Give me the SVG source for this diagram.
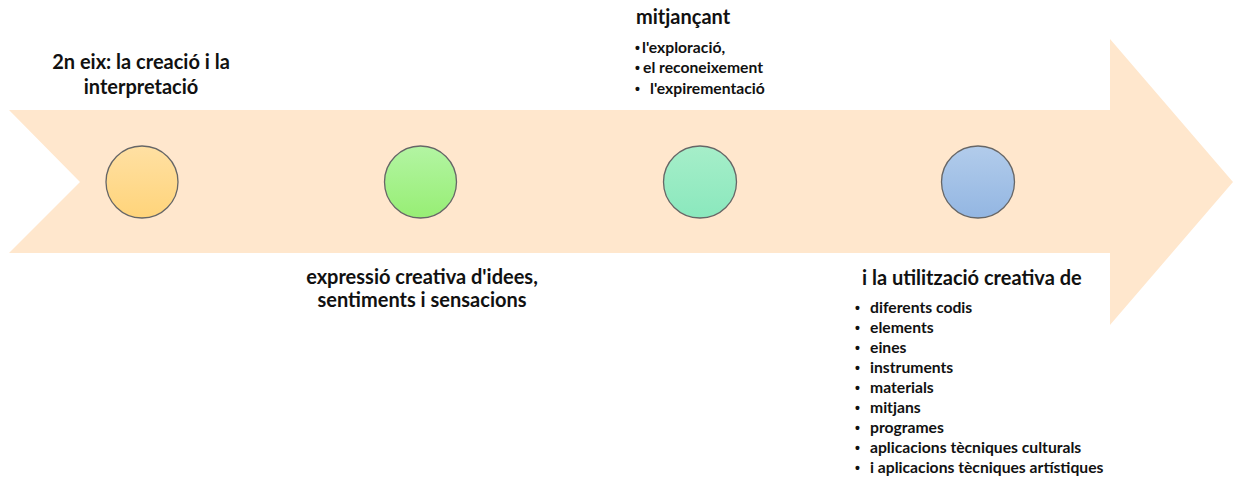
<svg xmlns="http://www.w3.org/2000/svg" width="1235" height="481" viewBox="0 0 1235 481">
<style>
text{font-family:Lato,"Open Sans","Liberation Sans",sans-serif;font-weight:bold;fill:#111}
.big{font-size:20px}
.sm{font-size:15.7px}
.b{font-family:"Liberation Sans",sans-serif;font-size:14px}
.c{stroke:#666;stroke-width:1.3}
</style>
<defs>
<linearGradient id="g1" x1="0" y1="0" x2="0" y2="1"><stop offset="0" stop-color="#FFE0A3"/><stop offset="1" stop-color="#FFD47A"/></linearGradient>
<linearGradient id="g2" x1="0" y1="0" x2="0" y2="1"><stop offset="0" stop-color="#B3F5A3"/><stop offset="1" stop-color="#97EE74"/></linearGradient>
<linearGradient id="g3" x1="0" y1="0" x2="0" y2="1"><stop offset="0" stop-color="#A6EEC9"/><stop offset="1" stop-color="#8AE8BD"/></linearGradient>
<linearGradient id="g4" x1="0" y1="0" x2="0" y2="1"><stop offset="0" stop-color="#B2CCEB"/><stop offset="1" stop-color="#93B6E2"/></linearGradient>
</defs>
<g id="arrow"><path d="M9,110 H1110 V39 L1233,182 L1110,325 V253 H9 L80,182 Z" fill="#FFE7CD"/></g>
<g id="n1"><circle class="c" cx="142" cy="182" r="36" fill="url(#g1)"/>
<text class="big" text-anchor="middle"><tspan x="141" y="69">2n eix: la creació i la</tspan><tspan x="141" y="94">interpretació</tspan></text></g>
<g id="n2"><circle class="c" cx="420.5" cy="182" r="36" fill="url(#g2)"/>
<text class="big" text-anchor="middle"><tspan x="422" y="284">expressió creativa d'idees,</tspan><tspan x="422" y="307">sentiments i sensacions</tspan></text></g>
<g id="n3"><ellipse class="c" cx="700" cy="182" rx="36.5" ry="36" fill="url(#g3)"/>
<text class="big" x="636" y="24">mitjançant</text>
<text class="sm"><tspan class="b" x="635" y="53">•</tspan><tspan x="642" y="53">l'exploració,</tspan><tspan class="b" x="635" y="73">•</tspan><tspan x="643" y="73">el reconeixement</tspan><tspan class="b" x="635" y="94">•</tspan><tspan x="650" y="94">l'expirementació</tspan></text></g>
<g id="n4"><ellipse class="c" cx="978" cy="182" rx="36.5" ry="36" fill="url(#g4)"/>
<text class="big" x="862" y="285">i la utilització creativa de</text>
<text class="sm"><tspan class="b" x="855" y="313">•</tspan><tspan x="870" y="313">diferents codis</tspan><tspan class="b" x="855" y="333">•</tspan><tspan x="870" y="333">elements</tspan><tspan class="b" x="855" y="353">•</tspan><tspan x="870" y="353">eines</tspan><tspan class="b" x="855" y="373">•</tspan><tspan x="870" y="373">instruments</tspan><tspan class="b" x="855" y="393">•</tspan><tspan x="870" y="393">materials</tspan><tspan class="b" x="855" y="413">•</tspan><tspan x="870" y="413">mitjans</tspan><tspan class="b" x="855" y="433">•</tspan><tspan x="870" y="433">programes</tspan><tspan class="b" x="855" y="453">•</tspan><tspan x="870" y="453">aplicacions tècniques culturals</tspan><tspan class="b" x="855" y="473">•</tspan><tspan x="870" y="473">i aplicacions tècniques artístiques</tspan></text></g>
<g id="connectors"></g>
</svg>
